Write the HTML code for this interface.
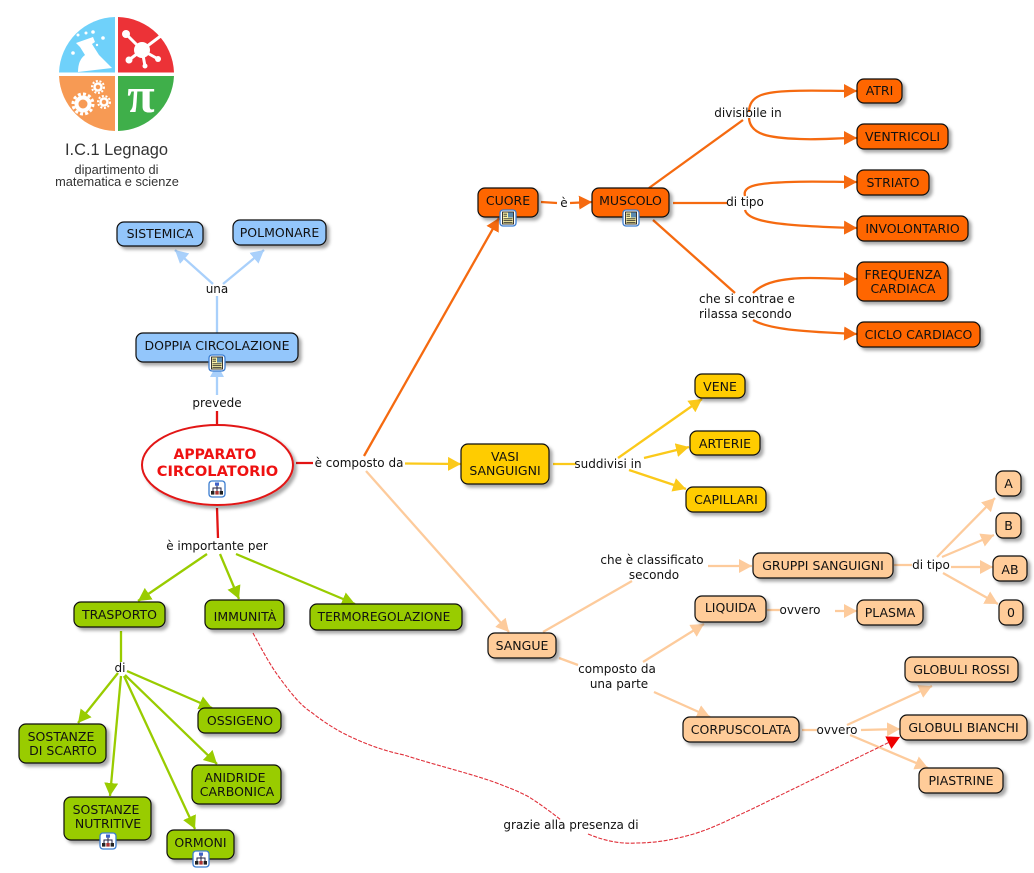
<!DOCTYPE html>
<html><head><meta charset="utf-8"><style>
html,body{margin:0;padding:0;background:#fff}
svg{display:block}
text{font-family:"DejaVu Sans","Liberation Sans",sans-serif;font-size:12px;fill:#111;text-anchor:middle}
.n text{font-size:12.500px}
.n rect{stroke:#111;stroke-width:1.2}
.l{fill:none;stroke-width:2.300}
</style></head><body>
<svg width="1034" height="873" viewBox="0 0 1034 873" xmlns="http://www.w3.org/2000/svg">
<defs>
<filter id="s" x="-20%" y="-20%" width="150%" height="150%"><feDropShadow dx="3" dy="3" stdDeviation="1.500" flood-color="#000" flood-opacity=".34"/></filter>
<marker id="mb" markerUnits="userSpaceOnUse" markerWidth="16" markerHeight="16" refX="13" refY="7" orient="auto"><path d="M0,0L13,7L0,14Z" fill="#A9D0FB"/></marker>
<marker id="mo" markerUnits="userSpaceOnUse" markerWidth="16" markerHeight="16" refX="13" refY="7" orient="auto"><path d="M0,0L13,7L0,14Z" fill="#F56A10"/></marker>
<marker id="my" markerUnits="userSpaceOnUse" markerWidth="16" markerHeight="16" refX="13" refY="7" orient="auto"><path d="M0,0L13,7L0,14Z" fill="#FBC91A"/></marker>
<marker id="mp" markerUnits="userSpaceOnUse" markerWidth="16" markerHeight="16" refX="13" refY="7" orient="auto"><path d="M0,0L13,7L0,14Z" fill="#FDCB9C"/></marker>
<marker id="mg" markerUnits="userSpaceOnUse" markerWidth="16" markerHeight="16" refX="13" refY="7" orient="auto"><path d="M0,0L13,7L0,14Z" fill="#99CC00"/></marker>
<marker id="mr" markerUnits="userSpaceOnUse" markerWidth="16" markerHeight="16" refX="13" refY="7" orient="auto"><path d="M0,0L13,7L0,14Z" fill="#EE0000"/></marker>
<g id="doc"><rect x="-8" y="-8" width="16" height="16" rx="3" fill="#fff" stroke="#3b7dd0" stroke-width="1.300"/><rect x="-5.500" y="-6" width="11" height="12" fill="#FFF6A8" stroke="#222" stroke-width=".9"/><rect x="0" y="-5.500" width="5" height="5" fill="#5a8ab0"/><path d="M-4.500,-3.800h3.500M-4.500,-1.800h3.500M-4.500,.8h9M-4.500,2.500h9M-4.500,4.300h9" stroke="#222" stroke-width=".8"/></g>
<g id="map"><rect x="-8" y="-8" width="16" height="16" rx="3" fill="#fff" stroke="#3b7dd0" stroke-width="1.300"/><path d="M0,-3.500V1M-4,2.500V-1H4V2.500M0,-1V2.500" fill="none" stroke="#224" stroke-width="1"/><rect x="-2" y="-6.500" width="4" height="3.200" fill="#3f62c8"/><rect x="-6" y="2" width="3.400" height="3.600" fill="#222"/><rect x="-1.700" y="2" width="3.400" height="3.600" fill="#a33"/><rect x="2.600" y="2" width="3.400" height="3.600" fill="#222"/></g>
</defs>

<!-- logo -->
<path d="M115,72.500V17A57.500,57.500 0 0 0 59,72.500Z" fill="#6FD1FA"/>
<path d="M118,72.500V17A57.500,57.500 0 0 1 174,72.500Z" fill="#EC3237"/>
<path d="M115,76V131A57.500,57.500 0 0 1 59,76Z" fill="#F79A54"/>
<path d="M118,76V131A57.500,57.500 0 0 0 174,76Z" fill="#3FAF4A"/>
<path d="M76,43L93,37L95,42L92,44L99,55L112,68L78,72Q78,60 85,55L80,47Z" fill="#fff"/>
<g fill="#fff"><circle cx="73" cy="53" r="1.800"/><circle cx="78" cy="35" r="1.500"/><circle cx="86" cy="33" r="1.500"/><circle cx="93" cy="32" r="1.800"/><circle cx="103" cy="38" r="1.800"/><circle cx="97" cy="45" r="1.200"/></g>
<g stroke="#fff" stroke-width="3" fill="#fff"><path d="M142,50L126,34M142,50L162,35M142,50L129,60M142,50L145,66M142,50L158,59"/></g>
<g fill="#fff"><circle cx="142" cy="50" r="8"/><circle cx="126" cy="34" r="4"/><circle cx="162" cy="35" r="3.200"/><circle cx="129" cy="60" r="3.500"/><circle cx="145" cy="66" r="2.500"/><circle cx="158" cy="59" r="3"/></g>
<g fill="none" stroke="#fff"><circle cx="83" cy="104" r="6.500" stroke-width="4"/><circle cx="83" cy="104" r="10" stroke-width="3" stroke-dasharray="3 2.200"/><circle cx="98" cy="87" r="3.500" stroke-width="2.500"/><circle cx="98" cy="87" r="6" stroke-width="2" stroke-dasharray="2 1.700"/><circle cx="104" cy="102" r="3.500" stroke-width="2.500"/><circle cx="104" cy="102" r="6" stroke-width="2" stroke-dasharray="2 1.700"/></g>
<text x="141" y="112" style="font-family:'Liberation Serif',serif;font-size:50px;font-weight:bold;fill:#fff">π</text>
<text x="116.500" y="155" style="font-family:'Liberation Sans',sans-serif;font-size:16.400px;fill:#333">I.C.1 Legnago</text>
<text x="116.500" y="174" style="font-family:'Liberation Sans',sans-serif;font-size:12.800px;fill:#333">dipartimento di</text>
<text x="117" y="186" style="font-family:'Liberation Sans',sans-serif;font-size:12.800px;fill:#333">matematica e scienze</text>

<!-- connectors -->
<g class="l" stroke="#A9D0FB">
<path d="M217,333V296"/><path d="M213,284L175,250" marker-end="url(#mb)"/><path d="M223,284L264,250" marker-end="url(#mb)"/><path d="M217,395V364" marker-end="url(#mb)"/>
</g>
<g class="l" stroke="#E21414"><path d="M217,411V425"/><path d="M296,463H313"/><path d="M217,508L218,538"/></g>
<g class="l" stroke="#F56A10">
<path d="M364,456L499,218" marker-end="url(#mo)"/><path d="M541,202L557,203"/><path d="M570,203L592,202" marker-end="url(#mo)"/>
<path d="M649,188L743,120"/><path d="M673,203H727"/><path d="M653,220L735,293"/>
<path d="M749,112C749,95 765,92 790,91C810,90 830,91 857,91" marker-end="url(#mo)"/>
<path d="M749,118C750,135 770,138 800,139C820,140 835,138 857,138" marker-end="url(#mo)"/>
<path d="M745,196C742,185 760,183 790,182C810,181 835,182 857,182" marker-end="url(#mo)"/>
<path d="M745,210C748,222 780,226 857,228" marker-end="url(#mo)"/>
<path d="M753,293C765,280 790,278 810,278C825,278 840,279 857,279" marker-end="url(#mo)"/>
<path d="M753,320C770,330 810,332 857,334" marker-end="url(#mo)"/>
</g>
<g class="l" stroke="#FBC91A">
<path d="M405,463.500L461,464" marker-end="url(#my)"/><path d="M553,464H576"/>
<path d="M618,458L702,399" marker-end="url(#my)"/><path d="M644,458L689,447" marker-end="url(#my)"/><path d="M629,470L686,489" marker-end="url(#my)"/>
</g>
<g class="l" stroke="#FDCB9C">
<path d="M366,471L509,632" marker-end="url(#mp)"/><path d="M543,632L632,581"/><path d="M708,566L752,566" marker-end="url(#mp)"/>
<path d="M559,658L578,665"/><path d="M643,662L704,624" marker-end="url(#mp)"/><path d="M654,692L710,717" marker-end="url(#mp)"/>
<path d="M767,610H780"/><path d="M835,611H857" marker-end="url(#mp)"/><path d="M894,565H912"/>
<path d="M937,557L995,498" marker-end="url(#mp)"/><path d="M942,557L994,535" marker-end="url(#mp)"/><path d="M951,567L993,567" marker-end="url(#mp)"/><path d="M943,573L998,604" marker-end="url(#mp)"/>
<path d="M802,730H817"/><path d="M847,725L932,686" marker-end="url(#mp)"/><path d="M861,730L900,729" marker-end="url(#mp)"/><path d="M850,735L928,768" marker-end="url(#mp)"/>
</g>
<g class="l" stroke="#99CC00">
<path d="M207,554L138,601" marker-end="url(#mg)"/><path d="M220,554L239,599" marker-end="url(#mg)"/><path d="M236,554L355,604" marker-end="url(#mg)"/>
<path d="M121,631V662"/><path d="M118,673L78,723" marker-end="url(#mg)"/><path d="M121,676L110,796" marker-end="url(#mg)"/><path d="M124,676L195,829" marker-end="url(#mg)"/><path d="M125,675L217,764" marker-end="url(#mg)"/><path d="M127,671L212,708" marker-end="url(#mg)"/>
</g>
<g fill="none" stroke="#E0303A" stroke-width="1.100" stroke-dasharray="4 1.500">
<path d="M253,633C261,648 270,665 279,677C290,692 300,705 311,712C325,723 338,731 351,737C368,745 385,751 404,755C435,765 465,772 494,782C507,787 518,791 529,797C540,804 551,812 561,820"/>
<path d="M588,834C605,841 620,844 636,843C655,843 672,840 690,835C712,829 730,819 750,810L900,737" marker-end="url(#mr)"/>
</g>

<!-- link labels -->
<text x="217" y="293">una</text>
<text x="217" y="407">prevede</text>
<text x="359" y="467">è composto da</text>
<text x="217" y="550">è importante per</text>
<text x="120" y="672">di</text>
<text x="564" y="207">è</text>
<text x="748" y="117">divisibile in</text>
<text x="745" y="206">di tipo</text>
<text x="699" y="303" style="text-anchor:start">che si contrae e</text>
<text x="699" y="318" style="text-anchor:start">rilassa secondo</text>
<text x="608" y="468">suddivisi in</text>
<text x="652" y="564">che è classificato</text>
<text x="654" y="579">secondo</text>
<text x="617" y="673">composto da</text>
<text x="619" y="688">una parte</text>
<text x="800" y="614">ovvero</text>
<text x="931" y="569">di tipo</text>
<text x="837" y="734">ovvero</text>
<text x="571" y="829">grazie alla presenza di</text>

<!-- nodes -->
<g class="n" fill="#93C6FB">
<g filter="url(#s)"><rect x="117" y="222" width="86" height="24" rx="7"/></g><text x="160" y="238">SISTEMICA</text>
<g filter="url(#s)"><rect x="233" y="220" width="93" height="25" rx="7"/></g><text x="279.500" y="237">POLMONARE</text>
<g filter="url(#s)"><rect x="136" y="333" width="162" height="29" rx="7"/></g><text x="217" y="350">DOPPIA CIRCOLAZIONE</text>
</g>
<g filter="url(#s)"><ellipse cx="217.500" cy="465" rx="75.500" ry="40" fill="#fff" stroke="#E21414" stroke-width="2"/></g>
<text x="215" y="459" style="font-size:14px;font-weight:bold;fill:#EE1111">APPARATO</text>
<text x="217.500" y="476" style="font-size:14.600px;font-weight:bold;fill:#EE1111">CIRCOLATORIO</text>

<g class="n" fill="#FF6600">
<g filter="url(#s)"><rect x="478" y="188" width="60" height="29" rx="7"/></g><text x="508" y="205">CUORE</text>
<g filter="url(#s)"><rect x="592" y="188" width="77" height="29" rx="7"/></g><text x="630.500" y="205">MUSCOLO</text>
<g filter="url(#s)"><rect x="857" y="79" width="45" height="24" rx="7"/></g><text x="879.500" y="95">ATRI</text>
<g filter="url(#s)"><rect x="857" y="124" width="91" height="25" rx="7"/></g><text x="902.500" y="141">VENTRICOLI</text>
<g filter="url(#s)"><rect x="857" y="170" width="72" height="25" rx="7"/></g><text x="893" y="187">STRIATO</text>
<g filter="url(#s)"><rect x="857" y="216" width="111" height="25" rx="7"/></g><text x="912.500" y="233">INVOLONTARIO</text>
<g filter="url(#s)"><rect x="857" y="262" width="91" height="39" rx="7"/></g><text x="903" y="279">FREQUENZA</text><text x="903" y="293">CARDIACA</text>
<g filter="url(#s)"><rect x="857" y="322" width="123" height="25" rx="7"/></g><text x="918.500" y="339">CICLO CARDIACO</text>
</g>
<g class="n" fill="#FFCC00">
<g filter="url(#s)"><rect x="461" y="444" width="88" height="40" rx="7"/></g><text x="505" y="461">VASI</text><text x="505" y="475">SANGUIGNI</text>
<g filter="url(#s)"><rect x="695" y="374" width="50" height="24" rx="7"/></g><text x="720" y="391">VENE</text>
<g filter="url(#s)"><rect x="690" y="431" width="70" height="24" rx="7"/></g><text x="725" y="448">ARTERIE</text>
<g filter="url(#s)"><rect x="686" y="487" width="80" height="25" rx="7"/></g><text x="726" y="504">CAPILLARI</text>
</g>
<g class="n" fill="#FFCC99">
<g filter="url(#s)"><rect x="488" y="633" width="68" height="25" rx="7"/></g><text x="522" y="650">SANGUE</text>
<g filter="url(#s)"><rect x="753" y="553" width="140" height="25" rx="7"/></g><text x="823" y="570">GRUPPI SANGUIGNI</text>
<g filter="url(#s)"><rect x="695" y="596" width="71" height="26" rx="7"/></g><text x="730.500" y="612">LIQUIDA</text>
<g filter="url(#s)"><rect x="857" y="600" width="66" height="25" rx="7"/></g><text x="890" y="617">PLASMA</text>
<g filter="url(#s)"><rect x="683" y="717" width="116" height="25" rx="7"/></g><text x="741" y="734">CORPUSCOLATA</text>
<g filter="url(#s)"><rect x="905" y="657" width="113" height="25" rx="7"/></g><text x="961.500" y="674">GLOBULI ROSSI</text>
<g filter="url(#s)"><rect x="900" y="715" width="127" height="25" rx="7"/></g><text x="963.500" y="732">GLOBULI BIANCHI</text>
<g filter="url(#s)"><rect x="919" y="768" width="84" height="25" rx="7"/></g><text x="961" y="785">PIASTRINE</text>
<g filter="url(#s)"><rect x="996" y="471" width="25" height="25" rx="7"/></g><text x="1008.500" y="488">A</text>
<g filter="url(#s)"><rect x="996" y="513" width="25" height="25" rx="7"/></g><text x="1008.500" y="530">B</text>
<g filter="url(#s)"><rect x="993" y="556" width="34" height="25" rx="7"/></g><text x="1010" y="574">AB</text>
<g filter="url(#s)"><rect x="999" y="600" width="24" height="25" rx="7"/></g><text x="1011" y="617">0</text>
</g>
<g class="n" fill="#99CC00">
<g filter="url(#s)"><rect x="74" y="602" width="91" height="25" rx="7"/></g><text x="119.500" y="619">TRASPORTO</text>
<g filter="url(#s)"><rect x="205" y="600" width="79" height="29" rx="7"/></g><text x="245" y="621">IMMUNITÀ</text>
<g filter="url(#s)"><rect x="310" y="604" width="152" height="26" rx="7"/></g><text x="384" y="621" style="font-size:12.200px">TERMOREGOLAZIONE</text>
<g filter="url(#s)"><rect x="198" y="708" width="83" height="25" rx="7"/></g><text x="240" y="725">OSSIGENO</text>
<g filter="url(#s)"><rect x="19" y="724" width="87" height="39" rx="7"/></g><text x="61" y="741">SOSTANZE</text><text x="63" y="755">DI SCARTO</text>
<g filter="url(#s)"><rect x="192" y="765" width="89" height="39" rx="7"/></g><text x="235" y="782">ANIDRIDE</text><text x="237" y="796">CARBONICA</text>
<g filter="url(#s)"><rect x="64" y="797" width="87" height="43" rx="7"/></g><text x="106" y="814">SOSTANZE</text><text x="108" y="828">NUTRITIVE</text>
<g filter="url(#s)"><rect x="167" y="830" width="67" height="29" rx="7"/></g><text x="200.500" y="847">ORMONI</text>
</g>

<use href="#doc" x="217" y="363"/>
<use href="#doc" x="508" y="218"/>
<use href="#doc" x="631" y="218"/>
<use href="#map" x="217" y="489"/>
<use href="#map" x="108" y="841"/>
<use href="#map" x="201" y="859"/>
</svg>
</body></html>
